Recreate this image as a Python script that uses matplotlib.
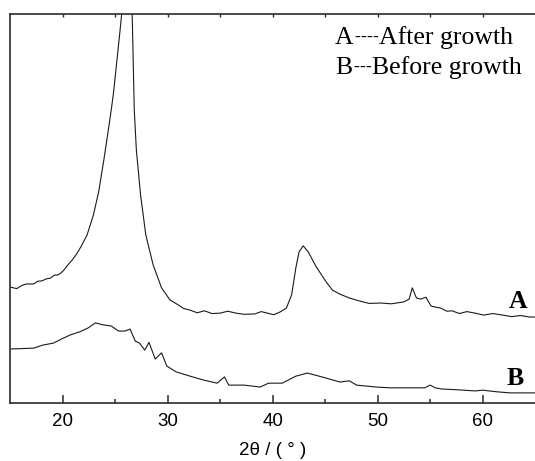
import matplotlib
matplotlib.use("Agg")
import matplotlib.pyplot as plt

# 2theta (deg) and intensity (a.u., 0-100 = visible window)
two_theta_a = [15.0, 15.6, 16.0, 16.5, 17.2, 17.6, 18.0, 18.4, 18.8, 19.2, 19.5, 19.8,
               20.1, 20.5, 20.9, 21.3, 21.7, 22.3, 22.9, 23.4, 23.9, 24.4, 24.8, 25.1,
               25.4, 25.6, 26.1, 26.6, 26.8, 27.0, 27.4, 27.9, 28.6, 29.4, 30.2, 31.0,
               31.5, 32.1, 32.8, 33.5, 34.2, 35.0, 35.7, 36.5, 37.3, 38.3, 38.9, 39.5,
               40.1, 40.7, 41.3, 41.8, 42.2, 42.5, 42.9, 43.4, 44.1, 45.1, 45.7, 46.4,
               47.3, 48.3, 49.2, 50.3, 51.3, 52.5, 53.0, 53.3, 53.7, 54.1, 54.6, 55.1,
               56.0, 56.6, 57.1, 57.8, 58.5, 59.3, 60.1, 61.0, 61.9, 62.8, 63.6, 64.5,
               65.0]
intensity_a = [29.8, 29.4, 30.1, 30.6, 30.6, 31.3, 31.4, 31.9, 32.1, 32.9, 32.9, 33.4,
               34.2, 35.6, 36.8, 38.3, 40.1, 43.2, 48.3, 54.2, 62.5, 71.5, 79.2, 86.9,
               94.6, 100.0, 320.0, 100.0, 75.3, 65.0, 53.5, 43.2, 35.5, 29.6, 26.5, 25.2,
               24.3, 23.9, 23.2, 23.7, 23.0, 23.1, 23.6, 23.1, 22.8, 22.9, 23.5, 23.1,
               22.7, 23.4, 24.4, 27.8, 34.7, 38.8, 40.4, 38.8, 35.2, 31.1, 29.0, 28.0,
               27.0, 26.2, 25.6, 25.7, 25.5, 26.0, 26.7, 29.6, 27.0, 26.7, 27.2, 24.9,
               24.4, 23.6, 23.7, 23.0, 23.5, 23.1, 22.6, 23.0, 22.6, 22.2, 22.5, 22.1,
               22.1]

two_theta_b = [15.1, 16.2, 17.2, 18.1, 19.1, 19.9, 20.7, 21.6, 22.4, 23.1, 23.8, 24.6,
               25.3, 25.9, 26.4, 26.9, 27.3, 27.8, 28.2, 28.8, 29.4, 29.9, 30.8, 32.0,
               33.4, 34.7, 35.4, 35.8, 37.3, 38.8, 39.6, 40.9, 42.2, 43.3, 44.7, 46.4,
               47.3, 48.0, 49.9, 51.2, 52.8, 54.5, 55.0, 55.5, 56.1, 57.6, 59.3, 60.0,
               61.3, 62.6, 64.5, 65.0]
intensity_b = [13.9, 14.0, 14.1, 14.9, 15.4, 16.5, 17.5, 18.3, 19.3, 20.6, 20.1, 19.8,
               18.5, 18.5, 19.0, 15.9, 15.4, 13.6, 15.6, 11.3, 12.9, 9.5, 8.0, 7.0,
               5.9, 5.1, 6.7, 4.6, 4.6, 4.1, 5.1, 5.1, 6.9, 7.7, 6.7, 5.4,
               5.7, 4.6, 4.1, 3.9, 3.9, 3.9, 4.6, 3.9, 3.6, 3.4, 3.1, 3.3,
               2.9, 2.6, 2.6, 2.6]

x_major = [20, 30, 40, 50, 60]
x_minor = [25, 35, 45, 55]

line_col = "#1a1a1a"
spine_col = "#2b2b2b"
W, H = 535, 461
SERIF = "Liberation Serif"

fig = plt.figure(figsize=(W / 100, H / 100), dpi=100)
ax = fig.add_axes([0.0196, 0.1258, 0.9804, 0.8438])

ax.plot(two_theta_a, intensity_a, color=line_col, lw=0.8)
ax.plot(two_theta_b, intensity_b, color=line_col, lw=0.8)

ax.set_xlim(15, 65)
ax.set_ylim(0, 100)

# axes frame: no right spine (cropped in original), no y ticks
ax.spines["right"].set_visible(False)
for s in ["left", "top", "bottom"]:
    ax.spines[s].set_linewidth(1.2)
    ax.spines[s].set_color(spine_col)

ax.set_yticks([])
ax.set_xticks(x_major)
ax.set_xticks(x_minor, minor=True)
ax.tick_params(axis="x", which="major", direction="in", length=5.5, width=1.1,
               color=spine_col, pad=7, labelsize=13.5)
ax.tick_params(axis="x", which="minor", direction="in", length=3, width=1.1,
               color=spine_col)
for lab in ax.get_xticklabels():
    lab.set_fontfamily("Liberation Sans")

# small ticks along the top edge
top = ax.secondary_xaxis("top")
top.set_xticks(x_major + x_minor)
top.tick_params(direction="in", length=2.5, width=1.0, color=spine_col,
                labeltop=False)
top.spines["top"].set_visible(False)

ax.set_xlabel("2θ / ( ° )", fontsize=13.5, family="Liberation Sans", labelpad=9)

renderer = fig.canvas.get_renderer()


def px_text(x, y, s, size=18.5, **kw):
    # place text by pixel position measured from the top-left corner
    t = fig.text(x / W, 1 - y / H, s, fontsize=size, family=SERIF,
                 va="baseline", **kw)
    return t.get_window_extent(renderer).width


def key_line(x, y, letter, n_dash, label):
    # letter, a run of short bold dashes, then the description
    x += px_text(x, y, letter) + 1
    for _ in range(n_dash):
        x += px_text(x, y - 2, "-", size=12.5, fontweight="bold") + 0.2
    px_text(x + 1, y, label)


key_line(335, 44, "A", 4, "After growth")
key_line(335, 74, "B", 3, "Before growth")

px_text(527, 308, "A", fontweight="bold", ha="right")
px_text(524, 385, "B", fontweight="bold", ha="right")

fig.savefig("out.png", dpi=100)
